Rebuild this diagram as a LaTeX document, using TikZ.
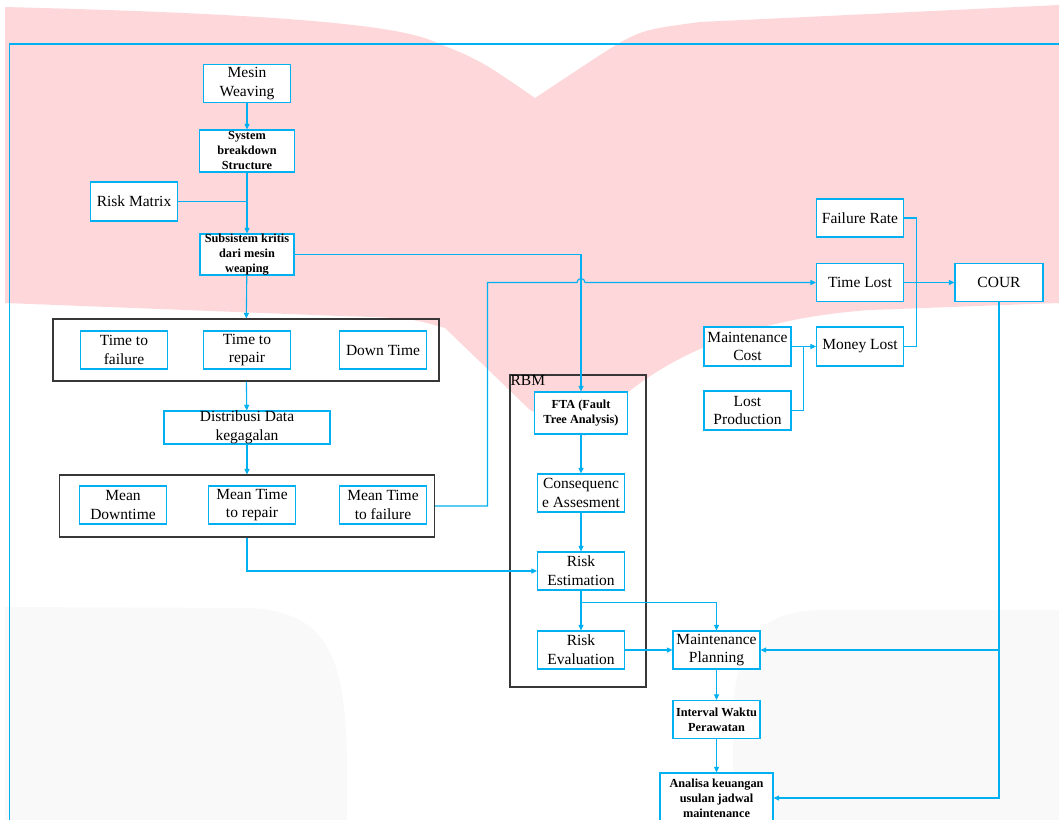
\documentclass[tikz,border=0pt]{standalone}
\usepackage{fontspec}
\setmainfont{Liberation Serif}
\usetikzlibrary{positioning, arrows.meta}

\definecolor{biru}{RGB}{0,176,240}
\definecolor{garis}{RGB}{55,55,55}
\definecolor{merah}{RGB}{253,215,218}
\definecolor{abu}{RGB}{249,249,249}

\newcommand{\teksbiasa}{\fontsize{15.5}{18.8}\selectfont}
\newcommand{\tekstebal}{\fontsize{12.3}{15}\selectfont\bfseries}

\begin{document}
\begin{tikzpicture}[x=1pt, y=-1pt,
    % 定义样式
    box/.style={draw=biru, line width=1.2pt, fill=white, align=center, inner sep=0pt,
                minimum width=87pt, minimum height=38pt, font=\teksbiasa},
    boldbox/.style={box, font=\tekstebal},
    group/.style={draw=garis, line width=1.1pt, inner sep=0pt},
    line/.style={draw=biru, line width=1.1pt},
    arrow/.style={line, -{Triangle[length=5.5pt, width=5pt]}}
]
\clip (0,0) rectangle (1059,819);

% --- 背景水印 ---
\fill[merah] (5,7) .. controls (200,12) and (380,20) .. (430,40)
    .. controls (480,60) .. (535,98) -- (600,55) .. controls (640,30) .. (700,22)
    -- (1059,5) -- (1059,303) -- (870,310) .. controls (700,322) and (620,390) .. (585,436)
    -- (530,410) -- (445,328) .. controls (410,318) .. (340,316) -- (5,303) -- cycle;
\fill[abu] (5,830) -- (5,607) -- (250,608) .. controls (330,612) and (345,660) .. (347,760) -- (347,830) -- cycle;
\fill[abu] (1070,610) -- (820,610) .. controls (750,612) and (735,650) .. (733,720) -- (733,830) -- (1070,830) -- cycle;

% 外框
\draw[line] (9.5,830) -- (9.5,44) -- (1070,44);

% --- 左侧节点 ---
\node[box] (mesin) at (247,83.5) {Mesin\\Weaving};
\node[boldbox, minimum width=95pt, minimum height=42pt, inner ysep=-2pt] (sbs) at (247,151) {System\\breakdown\\Structure};
\node[box, minimum height=39pt] (riskm) at (134,201.5) {Risk Matrix};
\node[boldbox, minimum width=94pt, minimum height=41pt, inner ysep=-2pt] (subsis) at (247,254.5) {Subsistem kritis\\dari mesin\\weaping};

% 分组 1
\node[group, minimum width=386pt, minimum height=62pt] (grpA) at (246,350) {};
\node[box] (ttf) at (124,350) {Time to\\failure};
\node[box] (ttr) at (247,350) {Time to\\repair};
\node[box] (dt) at (383,350) {Down Time};

\node[box, minimum width=166pt, minimum height=33pt, inner ysep=-3pt] (distr) at (247,427.5) {Distribusi Data\\kegagalan};

% 分组 2
\node[group, minimum width=375pt, minimum height=62pt] (grpB) at (247,506) {};
\node[box] (mdt) at (123,505) {Mean\\Downtime};
\node[box] (mttr) at (252,505) {Mean Time\\to repair};
\node[box] (mttf) at (383,505) {Mean Time\\to failure};

% --- RBM ---
\node[group, minimum width=136pt, minimum height=312pt] (rbm) at (578,531) {};
\node[font=\teksbiasa, anchor=north west, inner sep=1pt] (rbmlbl) at (rbm.north west) {RBM};
\node[boldbox, minimum width=93pt, minimum height=42pt] (fta) at (581,413) {FTA (Fault\\Tree Analysis)};
\node[box] (cons) at (581,493) {Consequenc\\e Assesment};
\node[box] (rest) at (581,571) {Risk\\Estimation};
\node[box] (reva) at (581,650) {Risk\\Evaluation};

\node[box] (mplan) at (716.5,650) {Maintenance\\Planning};
\node[boldbox] (intv) at (716.5,719.5) {Interval Waktu\\Perawatan};
\node[boldbox, minimum width=113pt, minimum height=50pt] (anal) at (716.5,798) {Analisa keuangan\\usulan jadwal\\maintenance};

% --- 右侧节点 ---
\node[box] (frate) at (860,218) {Failure Rate};
\node[box] (tlost) at (860,282.5) {Time Lost};
\node[box, minimum width=88pt] (cour) at (999,282.5) {COUR};
\node[box, minimum height=39pt] (mcost) at (747.5,346.5) {Maintenance\\Cost};
\node[box, minimum height=39pt] (mlost) at (860,346.5) {Money Lost};
\node[box, minimum height=39pt] (lprod) at (747.5,410.5) {Lost\\Production};

% --- 连接线 ---
\foreach \a/\b in {mesin/sbs, sbs/subsis, subsis/grpA, grpA/distr, distr/grpB,
                   fta/cons, cons/rest, rest/reva, reva/mplan, mplan/intv, intv/anal,
                   mcost/mlost, tlost/cour}
    \draw[arrow] (\a) -- (\b);

\draw[line] (riskm.east) -- (riskm.east -| sbs.south);
\draw[arrow] (subsis.east) -| (fta.north);

\coordinate (belok) at (487.5,282.5);
\coordinate (lompat) at (577,282.5);
\draw[arrow] (grpB.east) -| (belok) -- (lompat) arc[start angle=180, end angle=0, radius=4pt] -- (tlost.west);

\draw[arrow] (grpB.south) |- (rest.west);
\coordinate (cabang) at (581,602.5);
\draw[arrow] (cabang) -| (mplan.north);

\draw[line] (frate.east) -- ++(12,0) |- (mlost.east);
\draw[line] (lprod.east) -| ([xshift=12pt]mcost.east);

\draw[arrow] (cour.south) |- (anal.east);
\draw[arrow] (cour.south |- mplan.east) -- (mplan.east);

\end{tikzpicture}
\end{document}
